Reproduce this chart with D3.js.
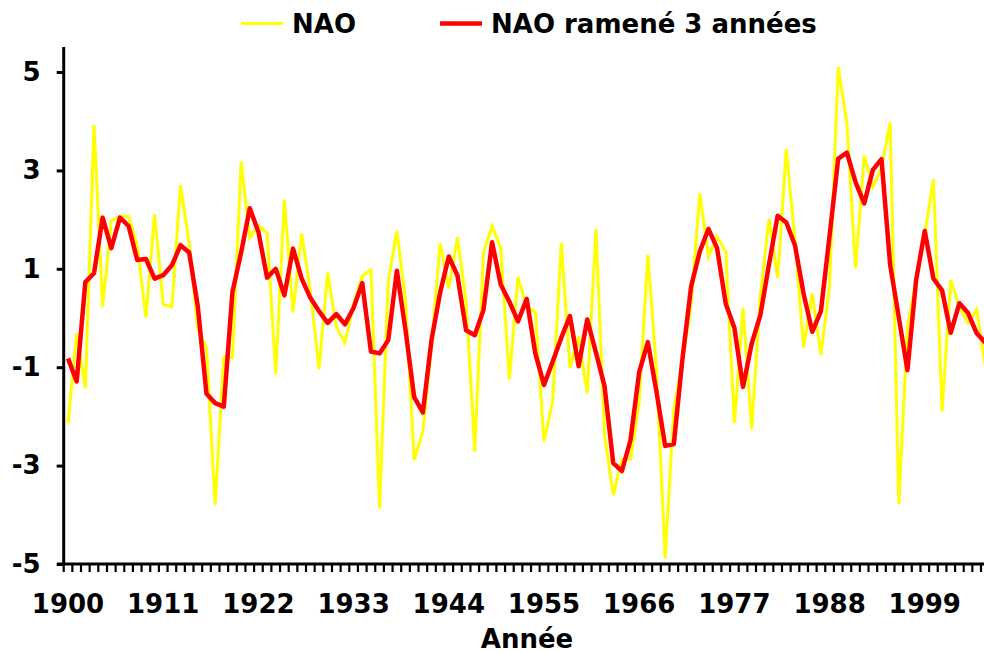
<!DOCTYPE html>
<html><head><meta charset="utf-8">
<script src="https://cdn.jsdelivr.net/npm/d3@7"></script>
<style>html,body{margin:0;padding:0;background:#fff;overflow:hidden}svg{display:block}</style>
</head><body>
<script>
const years = d3.range(1900, 2007);
const nao = [
-2.14,-0.31,-1.43,3.92,0.23,1.97,2.07,2.07,1.47,0.01,
2.11,0.28,0.23,2.70,1.51,-0.22,-0.60,-3.80,-0.79,-0.81,
3.18,1.63,1.88,1.73,-1.14,2.40,0.12,1.72,0.55,-1.04,
0.92,-0.18,-0.50,0.28,0.85,0.98,-3.87,0.74,1.77,0.37,
-2.89,-2.31,-0.56,1.52,0.60,1.64,0.33,-2.72,1.33,1.87,
1.42,-1.25,0.83,0.22,0.12,-2.51,-1.70,1.53,-1.02,-0.38,
-1.53,1.81,-2.38,-3.60,-2.87,-2.87,-1.70,1.28,-1.05,-4.88,
-1.87,-0.88,0.27,2.53,1.25,1.65,1.35,-2.14,0.20,-2.26,
0.45,2.02,0.81,3.43,1.58,-0.60,0.50,-0.75,0.67,5.10,
3.96,1.01,3.30,2.67,3.05,3.98,-3.78,-0.18,0.77,1.72,
2.82,-1.90,0.77,0.23,-0.10,0.17,-1.00
];
const nao3 = [
-0.82,-1.29,0.73,0.91,2.04,1.42,2.04,1.87,1.18,1.20,
0.80,0.87,1.07,1.48,1.33,0.23,-1.54,-1.73,-1.80,0.53,
1.33,2.23,1.75,0.82,1.00,0.46,1.41,0.80,0.41,0.14,
-0.10,0.08,-0.13,0.21,0.71,-0.68,-0.72,-0.45,0.96,-0.25,
-1.61,-1.92,-0.45,0.52,1.25,0.86,-0.25,-0.35,0.16,1.54,
0.68,0.33,-0.07,0.39,-0.72,-1.36,-0.89,-0.40,0.04,-0.98,
-0.03,-0.70,-1.39,-2.95,-3.11,-2.48,-1.10,-0.49,-1.50,-2.60,
-2.56,-0.83,0.64,1.35,1.81,1.42,0.29,-0.20,-1.40,-0.52,
0.06,1.09,2.08,1.94,1.48,0.49,-0.28,0.14,1.67,3.24,
3.36,2.76,2.33,3.01,3.23,1.08,0.01,-1.06,0.77,1.77,
0.80,0.56,-0.30,0.30,0.10,-0.31,-0.50
];
const yTicks = [-5,-3,-1,1,3,5];
const xLabelYears = [1900,1911,1922,1933,1944,1955,1966,1977,1988,1999];
const seriesNames = ["NAO","NAO ramené 3 années"];
const xTitle = "Année";

const W = 984, H = 653;
const x0 = 63.7, step = 8.654;
const FONT = "'DejaVu Sans', Verdana, sans-serif";
const FS = 26;

const svg = d3.select("body").append("svg").attr("width", W).attr("height", H);

const x = d3.scaleBand().domain(years).range([x0, x0 + step * years.length]).padding(0);
const y = d3.scaleLinear().domain([-5, 5]).range([564, 72]);
const cx = d => x(d) + x.bandwidth() / 2;

// lines
const line = d3.line().x((d, i) => cx(years[i])).y(d => y(d));
svg.append("path").datum(nao).attr("d", line)
  .attr("fill", "none").attr("stroke", "#ffff00").attr("stroke-width", 3).attr("stroke-linejoin", "miter");
svg.append("path").datum(nao3).attr("d", line)
  .attr("fill", "none").attr("stroke", "#ff0000").attr("stroke-width", 4.5).attr("stroke-linejoin", "round");

// y axis
const yAxis = d3.axisLeft(y).tickValues(yTicks).tickSize(7).tickPadding(16).tickFormat(d => String(d));
const gy = svg.append("g").attr("transform", `translate(${x0},0)`).call(yAxis);
gy.select(".domain").attr("d", `M0,47V565`).attr("stroke", "#000").attr("stroke-width", 3);
gy.selectAll(".tick line").attr("stroke", "#000").attr("stroke-width", 3);
gy.selectAll(".tick text").attr("font-family", FONT).attr("font-weight", "bold").attr("font-size", FS).attr("fill", "#000");

// x axis: line + tick marks at every category boundary
const gx = svg.append("g");
gx.append("line").attr("x1", 57).attr("x2", W).attr("y1", 564).attr("y2", 564)
  .attr("stroke", "#000").attr("stroke-width", 3);
gx.selectAll("line.t").data(years.concat([2007])).enter().append("line").attr("class", "t")
  .attr("x1", d => d === 2007 ? x(2006) + step : x(d)).attr("x2", d => d === 2007 ? x(2006) + step : x(d))
  .attr("y1", 564).attr("y2", 572).attr("stroke", "#000").attr("stroke-width", 2.2);
gx.selectAll("text").data(xLabelYears).enter().append("text")
  .attr("x", d => cx(d)).attr("y", 613).attr("text-anchor", "middle")
  .attr("font-family", FONT).attr("font-weight", "bold").attr("font-size", FS).attr("fill", "#000")
  .text(d => d);

svg.append("text").attr("x", 527).attr("y", 648).attr("text-anchor", "middle")
  .attr("font-family", FONT).attr("font-weight", "bold").attr("font-size", FS).attr("fill", "#000")
  .text(xTitle);

// legend
const legend = [
  {name: seriesNames[0], color: "#ffff00", w: 3, lx: 241, tx: 292},
  {name: seriesNames[1], color: "#ff0000", w: 4.5, lx: 440, tx: 491}
];
const lg = svg.append("g");
legend.forEach(l => {
  lg.append("line").attr("x1", l.lx).attr("x2", l.lx + 42).attr("y1", 23.5).attr("y2", 23.5)
    .attr("stroke", l.color).attr("stroke-width", l.w);
  lg.append("text").attr("x", l.tx).attr("y", 33).attr("font-family", FONT).attr("font-weight", "bold")
    .attr("font-size", FS).attr("fill", "#000").text(l.name);
});
</script>
</body></html>
